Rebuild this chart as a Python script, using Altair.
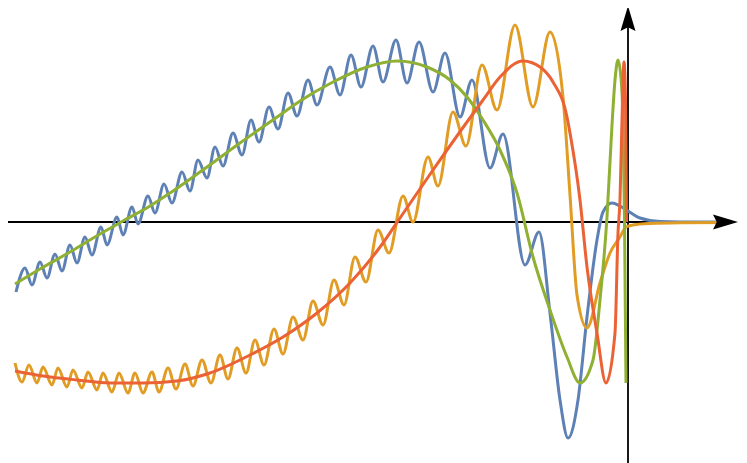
import altair as alt
import pandas as pd

# values (arbitrary units, origin where the axes cross)
blue_x = [-612, -603, -596, -588, -581, -573, -566, -558, -551, -543, -536, -527, -521, -511, -505,
          -496, -490, -480, -473, -464, -456, -446, -438, -430, -421, -413, -405, -395, -386, -377,
          -369, -359, -350, -340, -331, -320, -311, -298, -288, -277, -267, -255, -245, -232, -221,
          -209, -195, -183, -168, -156, -138, -125, -103, -89, -78, -68, -60, -50, -41, -31, -25,
          -16, -8, 0, 12, 32, 72, 104]
blue_y = [-70, -46, -63, -40, -56, -32, -49, -23, -41, -15, -33, -5, -23, 5, -13,
          15, -2, 26, 9, 38, 19, 50, 31, 62, 44, 75, 56, 89, 67, 102,
          80, 115, 93, 129, 106, 142, 117, 155, 127, 167, 135, 176, 140, 182, 139,
          180, 130, 169, 105, 142, 54, 88, -43, -10, -91, -178, -216, -178, -95, -18, 10,
          19, 16, 11, 4, 0.5, 0, 0]

orange_x = [-613, -606, -599, -591, -585, -576, -570, -561, -555, -546, -540, -531, -525, -516, -509,
            -500, -493, -485, -476, -469, -460, -452, -443, -435, -426, -417, -408, -400, -391, -382,
            -373, -364, -354, -345, -335, -325, -315, -305, -294, -284, -273, -262, -250, -239, -225,
            -215, -200, -190, -175, -162, -146, -131, -113, -95, -78, -65, -58, -51, -41, -28, -18,
            -8, -2, 5, 22, 52, 104]
orange_y = [-141, -160, -143, -161, -145, -163, -146, -165, -148, -166, -150, -168, -151, -170, -151,
            -171, -151, -171, -150, -170, -146, -167, -142, -164, -138, -161, -133, -157, -126, -151,
            -118, -143, -107, -132, -95, -118, -79, -103, -58, -83, -35, -60, -8, -31, 26,
            0, 65, 36, 110, 76, 157, 112, 197, 115, 190, 125, 27, -73, -106, -61, -31,
            -15, -5, -3, -1.5, -0.8, -0.5]

green_x = [-613, -588, -558, -528, -505, -478, -458, -428, -388, -348, -328, -295, -261, -231, -201,
           -178, -161, -145, -128, -111, -95, -78, -61, -48, -35, -28, -21, -16, -13, -10, -7, -5,
           -3.5, -2]
green_y = [-62, -47, -30, -12, 1, 16, 29, 50, 79, 107, 121, 140, 155, 161, 155,
           142, 125, 102, 72, 29, -35, -88, -135, -161, -138, -78, 5, 97, 142, 162, 144, 102,
           2, -161]

red_x = [-613, -585, -551, -518, -485, -451, -418, -378, -345, -311, -278, -245, -228, -195, -161,
         -145, -128, -105, -88, -75, -61, -58, -48, -41, -31, -22, -13, -10, -8, -5.5, -4, -2.5, -1.5]
red_y = [-149, -154, -158, -161, -161, -159, -151, -133, -115, -91, -61, -21, 4, 52, 100,
         122, 145, 161, 155, 140, 105, 89, 22, -45, -111, -161, -111, -11, 22, 122, 160, 122, 0]

series_names = ["blue", "orange", "green", "red"]
series_colors = ["#5E81B5", "#E19C24", "#8FB032", "#EB6235"]
series_data = [(blue_x, blue_y), (orange_x, orange_y), (green_x, green_y), (red_x, red_y)]

# axes: [x start, x end, y start, y end]
axis_x = [-620, 0]
axis_x2 = [90, 0]
axis_y = [0, -241]
axis_y2 = [0, 195]
arrow_right = (110, 0)
arrow_up = (0, 216)

xs = alt.Scale(domain=[-620, 111], nice=False, zero=False)
ys = alt.Scale(domain=[-241, 214], nice=False, zero=False)

axes_df = pd.DataFrame({"x": axis_x, "x2": axis_x2, "y": axis_y, "y2": axis_y2})
rules = alt.Chart(axes_df).mark_rule(color="black", strokeWidth=1.8).encode(
    x=alt.X("x:Q", scale=xs, axis=None),
    x2="x2:Q",
    y=alt.Y("y:Q", scale=ys, axis=None),
    y2="y2:Q",
)

arr_r = alt.Chart(pd.DataFrame({"x": [arrow_right[0]], "y": [arrow_right[1]]})).mark_point(
    shape="M0,0L-2,-0.6L-1.7,0L-2,0.6Z", filled=True, color="black", size=625, opacity=1, strokeWidth=0
).encode(x=alt.X("x:Q", scale=xs, axis=None), y=alt.Y("y:Q", scale=ys, axis=None))

arr_u = alt.Chart(pd.DataFrame({"x": [arrow_up[0]], "y": [arrow_up[1]]})).mark_point(
    shape="M0,0L-0.6,2L0,1.7L0.6,2Z", filled=True, color="black", size=625, opacity=1, strokeWidth=0,
    clip=False
).encode(x=alt.X("x:Q", scale=xs, axis=None), y=alt.Y("y:Q", scale=ys, axis=None))

layers = [rules]
for name, color, (sx, sy) in zip(series_names, series_colors, series_data):
    df = pd.DataFrame({"x": sx, "y": sy})
    layers.append(
        alt.Chart(df).mark_line(interpolate="monotone", strokeWidth=3, color=color).encode(
            x=alt.X("x:Q", scale=xs, axis=None),
            y=alt.Y("y:Q", scale=ys, axis=None),
        )
    )
layers += [arr_r, arr_u]

chart = alt.layer(*layers).properties(
    width=731, height=455, padding=0,
    autosize=alt.AutoSizeParams(type="none"),
    background="white",
).configure_view(stroke=None)

chart.save("out.html", embed_options={"renderer": "svg", "actions": False})
